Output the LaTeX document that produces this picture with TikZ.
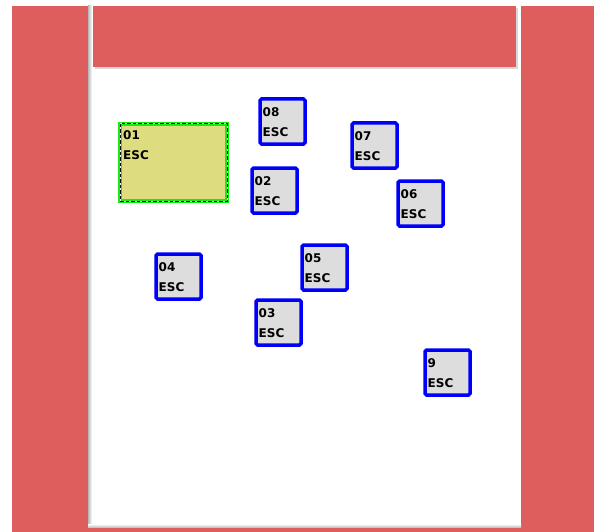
\documentclass[tikz,border=0pt]{standalone}
\usepackage{fontspec}
\setsansfont{DejaVu Sans}
\usetikzlibrary{shadows,calc}

\definecolor{frameRed}{RGB}{222,94,93}
\definecolor{keyGray}{RGB}{221,221,221}
\definecolor{keyBlue}{RGB}{0,0,250}
\definecolor{selFill}{RGB}{221,221,128}
\definecolor{selGreen}{RGB}{20,235,20}

\tikzset{
  escbox/.style={draw=keyBlue, line width=3.5pt, fill=keyGray,
    rounded corners=1.5pt, minimum width=45pt, minimum height=45pt,
    inner sep=0pt, outer sep=0pt, anchor=north west,
    drop shadow={shadow xshift=1.5pt, shadow yshift=-1.5pt, opacity=.3}},
  selbox/.style={draw=selGreen, line width=4pt, fill=selFill,
    minimum width=107pt, minimum height=77pt,
    inner sep=0pt, outer sep=0pt, anchor=north west,
    drop shadow={shadow xshift=1.5pt, shadow yshift=-1.5pt, opacity=.3}},
  esclabel/.style={font=\sffamily\bfseries\fontsize{12}{20}\selectfont,
    align=left, inner sep=0pt, anchor=north west},
}

\begin{document}
\begin{tikzpicture}[x=1pt, y=-1pt]

\useasboundingbox (0,0) rectangle (594,532);

\fill[frameRed] (12,6) rectangle (594,532);
\fill[white] (88,6) rectangle (521,527);
\fill[left color=gray!55, right color=white] (88,6) rectangle (92,527);
\fill[top color=white, bottom color=gray!45] (88,524) rectangle (521,527);
\fill[frameRed, drop shadow={shadow xshift=2pt, shadow yshift=-2pt, opacity=.3}]
  (93,6) rectangle (516,67);

% selected key
\node[selbox] (b01) at (120,124) {};
\draw[white, line width=1pt] (b01.north west) rectangle (b01.south east);
\draw[black, line width=1pt, dash pattern=on 3.5pt off 2pt]
  (b01.north west) rectangle (b01.south east);
\node[esclabel] (t01) at ($(b01.north west)+(3,6)$) {01\\ESC};

% keys
\node[escbox] (b08) at (260,99) {};
\node[escbox] (b07) at (352,123) {};
\node[escbox] (b02) at (252,168) {};
\node[escbox] (b06) at (398,181) {};
\node[escbox] (b04) at (156,254) {};
\node[escbox] (b05) at (302,245) {};
\node[escbox] (b03) at (256,300) {};
\node[escbox] (b9)  at (425,350) {};

\foreach \k in {08,07,02,06,04,05,03,9}
  \node[esclabel] (t\k) at ($(b\k.north west)+(2.5,8.5)$) {\k\\ESC};

\end{tikzpicture}
\end{document}
